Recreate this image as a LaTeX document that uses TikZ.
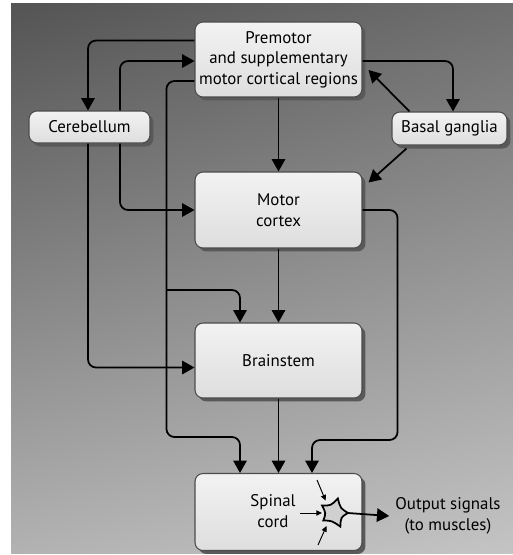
\documentclass[tikz,border=0pt]{standalone}
\usepackage{fontspec}
\setmainfont{PT Sans}
\usetikzlibrary{arrows.meta, calc, shadows, shadings, positioning}
\definecolor{bgUL}{HTML}{545454}
\definecolor{bgUR}{HTML}{6E6E6E}
\definecolor{bgLL}{HTML}{B2B2B2}
\definecolor{bgLR}{HTML}{C4C4C4}
\definecolor{cellfill}{HTML}{D0D0D0}
\tikzset{
    region/.style = {draw=black!70, line width=0.6pt, rounded corners=0.16cm,
        top color=white!95!black, bottom color=white!87!black,
        align=center, inner sep=0pt,
        font=\fontsize{9.6}{11.7}\selectfont,
        drop shadow={shadow xshift=0.07cm, shadow yshift=-0.07cm, fill=black!65, opacity=1}},
    arr/.style = {-{Triangle[length=7pt,width=7.6pt]}, line width=1pt, rounded corners=0.16cm},
    feed/.style = {-{Triangle[length=3.2pt,width=3pt]}, line width=0.55pt},
}

\begin{document}
\begin{tikzpicture}[x=0.02cm, y=-0.02cm]
% page and background
\useasboundingbox (0,0) rectangle (513,555);
\fill[white] (0,0) rectangle (513,555);
\shade[upper left=bgUL, upper right=bgUR, lower left=bgLL, lower right=bgLR] (11,3) rectangle (513,553);

% boxes
\node[region, minimum width=3.34cm, minimum height=1.5cm] (pre) at (278.5,59.5)
    {Premotor\\and supplementary\\motor cortical regions};
\node[region, minimum width=2.42cm, minimum height=0.64cm] (cer) at (89.5,127) {Cerebellum};
\node[region, minimum width=2.3cm, minimum height=0.66cm] (bg) at (449.5,128.5) {Basal ganglia};
\node[region, minimum width=3.34cm, minimum height=1.52cm] (mot) at (278.5,210) {Motor\\cortex};
\node[region, minimum width=3.34cm, minimum height=1.5cm] (brs) at (278.5,360.5) {Brainstem};
\node[region, minimum width=3.34cm, minimum height=1.54cm] (spc) at (278.5,512) {};
\node[align=center, font=\fontsize{9.6}{11.7}\selectfont] (spclab) at (273,511) {Spinal\\cord};

% cerebellar loop
\draw[arr] ($(pre.west)+(0,-19)$) -| ($(cer.north)+(-1.5,0)$);
\draw[arr] ($(cer.north)+(30.5,0)$) |- ($(pre.west)+(0,1.5)$);
\draw[arr] ($(cer.south)+(30.5,0)$) |- (mot.west);
\draw[arr] ($(cer.south)+(-1.5,0)$) |- ($(brs.west)+(0,7)$);

% basal ganglia loop
\draw[arr] ($(pre.east)+(0,1.5)$) -| ($(bg.north)+(3.5,0)$);
\draw[arr] ($(bg.north west)+(18,0)$) -- ($(pre.east)+(6,10.5)$);
\draw[arr] ($(bg.south west)+(15,3)$) -- ($(mot.north east)+(6,11)$);

% descending pathways
\draw[arr] (pre.south) -- (mot.north);
\draw[arr] (mot.south) -- (brs.north);
\draw[arr] (brs.south) -- (spc.north);
\draw[arr] ($(pre.west)+(0,21.5)$) -| ++(-28,356) -| ($(spc.north)+(-38.5,0)$);
\coordinate (tap) at (167,290);
\draw[arr] (tap) -| ($(brs.north)+(-38.5,0)$);
\draw[arr] (mot.east) -| ++(35,230) -| ($(spc.north)+(33.5,0)$);

% motor neuron
\coordinate (nrn) at (334,513);
\draw[line width=1pt, fill=cellfill]
    ($(nrn)+(212:14)$) .. controls ($(nrn)+(248:8)$) .. ($(nrn)+(285:15)$)
    .. controls ($(nrn)+(322:8)$) .. ($(nrn)+(0:14)$)
    .. controls ($(nrn)+(32:8)$) .. ($(nrn)+(65:15)$)
    .. controls ($(nrn)+(105:8)$) .. ($(nrn)+(145:13)$)
    .. controls ($(nrn)+(178:8)$) .. cycle;
\coordinate (in1) at (317,480);
\coordinate (in2) at (300,513);
\coordinate (in3) at (318,545);
\draw[feed] (in1) -- ($(nrn)+(236:15)$);
\draw[feed] (in2) -- ($(nrn)+(180:12)$);
\draw[feed] (in3) -- ($(nrn)+(120:15)$);

% output
\node[align=center, font=\fontsize{9.6}{11.7}\selectfont] (out) at (448,516)
    {Output signals\\(to muscles)};
\draw[arr] ($(nrn)+(0:14)$) -- (out.west);
\end{tikzpicture}
\end{document}
